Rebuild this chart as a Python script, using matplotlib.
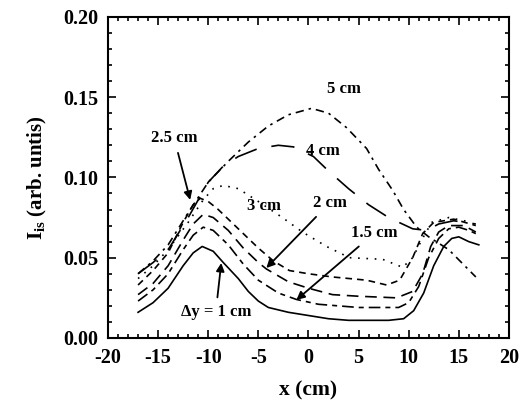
import matplotlib
matplotlib.use("Agg")
import matplotlib.pyplot as plt
from matplotlib.ticker import MultipleLocator

plt.rcParams['font.family'] = ['Liberation Serif', 'DejaVu Serif']
plt.rcParams['font.weight'] = 'bold'
plt.rcParams['axes.unicode_minus'] = False
plt.rcParams['mathtext.fontset'] = 'custom'
plt.rcParams['mathtext.rm'] = 'Liberation Serif:bold'
plt.rcParams['mathtext.bf'] = 'Liberation Serif:bold'

# ion saturation current profiles for different probe offsets dy
x_1 = [-17, -15.5, -14, -12.5, -11.5, -10.6, -9.5, -8.5, -7, -6, -5, -4, -2, 0, 2, 4, 6, 8, 9.5,
       10.5, 11.5, 12.5, 13.5, 14.3, 15, 16, 17]
y_1 = [0.016, 0.022, 0.031, 0.045, 0.053, 0.057, 0.054, 0.047, 0.037, 0.029, 0.023, 0.019, 0.016,
       0.014, 0.012, 0.011, 0.011, 0.011, 0.012, 0.017, 0.028, 0.045, 0.057, 0.062, 0.063, 0.060, 0.058]

x_15 = [-17, -15.5, -14, -12.5, -11.5, -10.5, -9.5, -8, -6.5, -5, -3, -1.2, 1, 3, 5, 7, 9, 10, 11,
        12, 13, 14, 15, 16, 16.7]
y_15 = [0.023, 0.030, 0.040, 0.055, 0.064, 0.069, 0.067, 0.058, 0.046, 0.036, 0.028, 0.024, 0.021,
        0.020, 0.019, 0.019, 0.019, 0.022, 0.032, 0.050, 0.062, 0.068, 0.069, 0.067, 0.065]

x_2 = [-17, -15.5, -14, -12.5, -11.5, -10.5, -9.5, -8, -6.5, -5, -4.2, -2, 0, 2.4, 5, 8.8, 10.4,
       11.4, 12.2, 13, 14, 15.5, 16.7]
y_2 = [0.027, 0.034, 0.045, 0.061, 0.071, 0.077, 0.075, 0.067, 0.056, 0.047, 0.043, 0.035, 0.031,
       0.027, 0.026, 0.025, 0.029, 0.040, 0.057, 0.066, 0.070, 0.070, 0.066]

x_25 = [-17, -15.5, -14, -12.5, -11.5, -10.8, -10, -9, -7, -5, -3.5, -1.9, 0, 2.4, 5.8, 7.8, 9.1,
        10.4, 11.4, 12.5, 14.5, 16.7]
y_25 = [0.033, 0.042, 0.053, 0.072, 0.083, 0.087, 0.085, 0.080, 0.068, 0.056, 0.048, 0.042, 0.040,
        0.038, 0.036, 0.033, 0.036, 0.050, 0.065, 0.072, 0.074, 0.070]

x_3 = [-17, -15.5, -14, -12, -10.5, -9.5, -8.5, -7, -5, -2.6, -0.6, 1.8, 4.1, 7.4, 9.4, 10.4,
       11.3, 12.3, 14, 16.3]
y_3 = [0.037, 0.045, 0.055, 0.072, 0.086, 0.093, 0.095, 0.093, 0.085, 0.075, 0.066, 0.057, 0.050,
       0.049, 0.044, 0.050, 0.061, 0.072, 0.075, 0.072]

x_4 = [-17, -15.5, -14, -12, -10, -8.5, -7, -5, -3, -1.5, 0.5, 2, 4, 6, 8, 10.4, 11.8, 13, 14.5, 16.7]
y_4 = [0.040, 0.047, 0.055, 0.075, 0.097, 0.107, 0.113, 0.118, 0.120, 0.119, 0.113, 0.104, 0.093,
       0.083, 0.075, 0.068, 0.067, 0.071, 0.073, 0.071]

x_5 = [-17, -15.5, -14, -12, -10, -8, -6, -4, -2, 0.3, 2, 3.8, 5.8, 7, 8.4, 9.5, 10.8, 12, 14, 16.7]
y_5 = [0.040, 0.048, 0.058, 0.078, 0.097, 0.110, 0.122, 0.132, 0.139, 0.143, 0.140, 0.131, 0.118,
       0.105, 0.092, 0.080, 0.069, 0.063, 0.055, 0.038]

fig = plt.figure(figsize=(5.23, 4.03), dpi=100)
ax = fig.add_axes([0.2065, 0.1613, 0.7665, 0.797])

lw = 1.2
ax.plot(x_1, y_1, color='black', lw=lw, ls='-')
ax.plot(x_15, y_15, color='black', lw=lw, ls=(0, (7, 3, 3, 3)))
ax.plot(x_2, y_2, color='black', lw=lw, ls=(0, (7, 4)))
ax.plot(x_25, y_25, color='black', lw=lw, ls=(0, (4, 3)))
ax.plot(x_3, y_3, color='black', lw=lw, ls=(0, (1, 4)))
ax.plot(x_4, y_4, color='black', lw=lw, ls=(0, (14, 9)))
ax.plot(x_5, y_5, color='black', lw=lw, ls=(0, (5, 3, 1.5, 3)))

fs = 12
arr = dict(arrowstyle='-|>', color='black', lw=1.3, mutation_scale=12, shrinkA=3, shrinkB=0)
ax.annotate('2.5 cm', xy=(-11.8, 0.086), xytext=(-13.4, 0.1245), ha='center', va='center',
            fontsize=fs, fontweight='bold', arrowprops=arr)
ax.annotate('2 cm', xy=(-4.2, 0.0436), xytext=(2.1, 0.084), ha='center', va='center',
            fontsize=fs, fontweight='bold', arrowprops=arr)
ax.annotate('1.5 cm', xy=(-1.2, 0.0237), xytext=(6.6, 0.0654), ha='center', va='center',
            fontsize=fs, fontweight='bold', arrowprops=arr)
ax.annotate('\u0394y = 1 cm', xy=(-8.7, 0.0467), xytext=(-9.25, 0.016), ha='center', va='center',
            fontsize=fs, fontweight='bold', arrowprops=arr)
ax.text(3.5, 0.155, '5 cm', ha='center', va='center', fontsize=fs, fontweight='bold')
ax.text(1.4, 0.1165, '4 cm', ha='center', va='center', fontsize=fs, fontweight='bold')
ax.text(-4.4, 0.082, '3 cm', ha='center', va='center', fontsize=fs, fontweight='bold')

ax.set_xlim(-20, 20)
ax.set_ylim(0, 0.20)
ax.xaxis.set_major_locator(MultipleLocator(5))
ax.xaxis.set_minor_locator(MultipleLocator(1))
ax.yaxis.set_major_locator(MultipleLocator(0.05))
ax.yaxis.set_minor_locator(MultipleLocator(0.01))
ax.yaxis.set_major_formatter(plt.FormatStrFormatter('%.2f'))
ax.tick_params(which='both', direction='in', top=True, right=True, labelsize=14.5, width=1.2)
ax.tick_params(which='major', length=6, pad=7)
ax.tick_params(which='minor', length=3)
for s in ax.spines.values():
    s.set_linewidth(1.5)
for lab in ax.get_xticklabels() + ax.get_yticklabels():
    lab.set_fontweight('bold')

ax.set_xlabel('x (cm)', fontsize=15.5, fontweight='bold', labelpad=9)
ax.set_ylabel(r'I$_{\mathbf{is}}$ (arb. untis)', fontsize=15, fontweight='bold', labelpad=10)

fig.savefig('out.png', dpi=100)
